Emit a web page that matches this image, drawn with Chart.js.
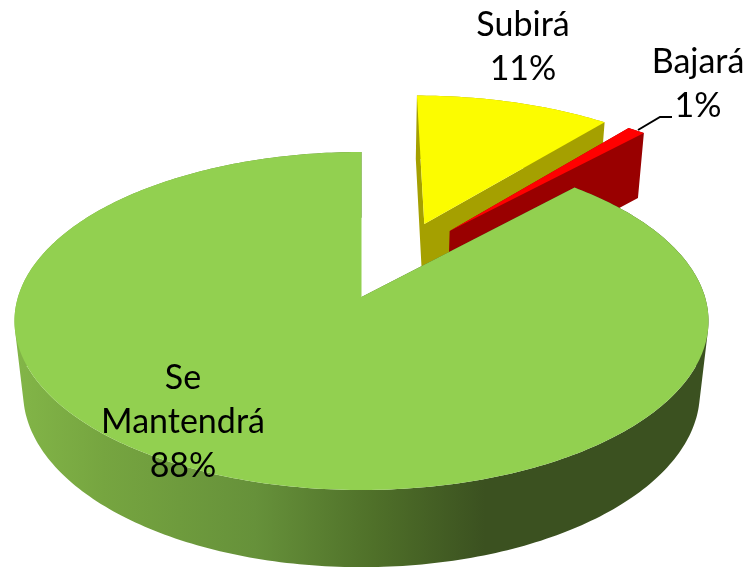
<!DOCTYPE html>
<html>
<head>
<meta charset="utf-8">
<style>
  html, body { margin: 0; background: #fff; }
  canvas { display: block; }
</style>
<script src="https://cdn.jsdelivr.net/npm/chart.js@4/dist/chart.umd.js"></script>
</head>
<body>
<canvas id="pie" width="747" height="567"></canvas>
<script>
const categories = ["Subirá", "Bajará", "Se Mantendrá"];
const values = [11, 1, 88];
const topColors = ["#fcfc00", "#ff0000", "#92d050"];
const sideColors = ["#a5a000", "#990000", null];

// how far each slice is pulled out, as a fraction of the radius
const pullRight = [0.195, 0.272, 0];
const pullBack = [0.47, 0.423, 0];

// label lines + where they sit
const labelLines = [["Subirá"], ["Bajará"], ["Se", "Mantendrá"]];
const labelPos = [[523, 36], [698, 73], [183, 389]];
const LINE_H = 44;

// 3d view, plane coords to screen
const CX = 361.5, CY = 297, AX = 343.5, AY = 165.6, PERSP = 0.142, DEPTH_Y = 73, DEPTH_W = 0.025;

function project(u, v, z) {
  const w = 1 + PERSP * v + DEPTH_W * z;
  return [CX + AX * u / w, CY + (-AY * v + DEPTH_Y * z) / w];
}

function arcPoints(el, i, z) {
  const pts = [];
  const steps = Math.max(4, Math.ceil((el.endAngle - el.startAngle) * 60));
  for (let s = 0; s <= steps; s++) {
    const a = el.startAngle + (el.endAngle - el.startAngle) * s / steps;
    pts.push(project(Math.cos(a) + pullRight[i], -Math.sin(a) + pullBack[i], z));
  }
  return pts;
}

function addPoly(ctx, pts) {
  // same winding for all, so one fill covers overlaps without seams
  let area = 0;
  pts.forEach((p, n) => {
    const q = pts[(n + 1) % pts.length];
    area += p[0] * q[1] - q[0] * p[1];
  });
  const ordered = area < 0 ? pts.slice().reverse() : pts;
  ordered.forEach((p, n) => n ? ctx.lineTo(p[0], p[1]) : ctx.moveTo(p[0], p[1]));
  ctx.closePath();
}

function greenWall(ctx) {
  const g = ctx.createLinearGradient(13, 0, 707, 0);
  g.addColorStop(0, "#83b648");
  g.addColorStop(0.13, "#76a540");
  g.addColorStop(0.35, "#66913a");
  g.addColorStop(0.52, "#4f7029");
  g.addColorStop(0.68, "#3b5120");
  g.addColorStop(1, "#3b5120");
  return g;
}

const pie3d = {
  id: "pie3d",
  beforeDatasetsDraw(chart) {
    const ctx = chart.ctx;
    const arcs = chart.getDatasetMeta(0).data;
    arcs.forEach((el, i) => {
      const top = arcPoints(el, i, 0);
      const bottom = arcPoints(el, i, 1);
      const apexTop = project(pullRight[i], pullBack[i], 0);
      const apexBottom = project(pullRight[i], pullBack[i], 1);

      // radial faces + rim in one path
      ctx.beginPath();
      addPoly(ctx, [apexTop, top[0], bottom[0], apexBottom]);
      addPoly(ctx, [apexTop, top[top.length - 1], bottom[bottom.length - 1], apexBottom]);
      for (let s = 0; s < top.length - 1; s++) {
        addPoly(ctx, [top[s], top[s + 1], bottom[s + 1], bottom[s]]);
      }
      ctx.fillStyle = sideColors[i] || greenWall(ctx);
      ctx.fill();

      ctx.beginPath();
      addPoly(ctx, [apexTop].concat(top));
      ctx.fillStyle = topColors[i];
      ctx.fill();
    });
    return false;
  },
  afterDraw(chart) {
    const ctx = chart.ctx;
    // leader line for the small slice
    ctx.beginPath();
    ctx.moveTo(638, 130);
    ctx.lineTo(660, 117);
    ctx.lineTo(672, 117);
    ctx.strokeStyle = "#000";
    ctx.lineWidth = 2;
    ctx.stroke();

    ctx.fillStyle = "#000";
    ctx.font = "34px Lato";
    ctx.textAlign = "center";
    ctx.textBaseline = "alphabetic";
    labelLines.forEach((lines, i) => {
      const rows = lines.concat(values[i] + "%");
      rows.forEach((t, n) => ctx.fillText(t, labelPos[i][0], labelPos[i][1] + n * LINE_H));
    });
  }
};

new Chart(document.getElementById("pie"), {
  type: "pie",
  data: {
    labels: categories,
    datasets: [{ data: values, backgroundColor: topColors, borderWidth: 0 }],
  },
  options: {
    responsive: false,
    animation: false,
    plugins: { legend: { display: false }, tooltip: { enabled: false } },
  },
  plugins: [pie3d],
});
</script>
</body>
</html>
